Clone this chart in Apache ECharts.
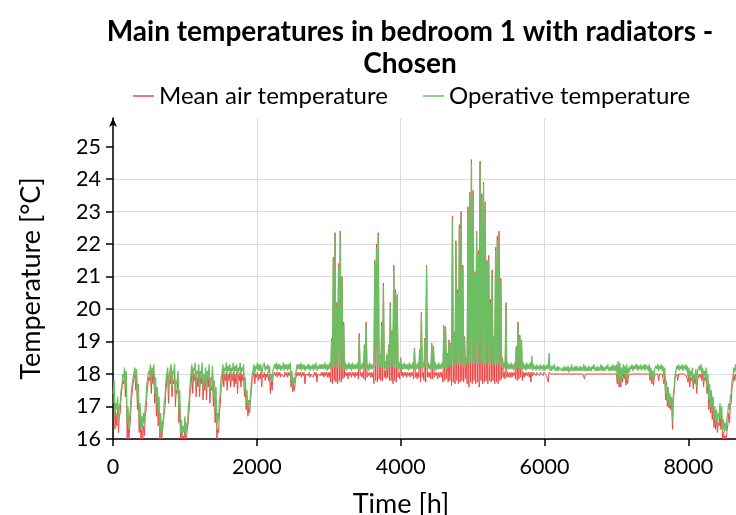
<!DOCTYPE html>
<html><head><meta charset="utf-8">
<script src="https://cdn.jsdelivr.net/npm/echarts@6/dist/echarts.min.js"></script>
<style>html,body{margin:0;padding:0;background:#fff}#c{width:736px;height:515px}</style>
</head><body><div id="c"></div>
<script>
const chartTitle = 'Main temperatures in bedroom 1 with radiators -\nChosen';
const seriesNames = ['Mean air temperature', 'Operative temperature'];
const xAxisName = 'Time [h]';
const yAxisName = 'Temperature [°C]';
const xTicks = [0, 2000, 4000, 6000, 8000];
const yTicks = [16, 17, 18, 19, 20, 21, 22, 23, 24, 25];
const hoursPerDay = 24;

// Daily maximum / minimum of operative temperature (green)
const opHi = [
17.8,17.1,17.3,17.0,17.5,18.0,18.2,18.1,17.0,16.7,
17.5,17.9,18.2,18.15,17.7,17.1,16.7,16.8,17.0,17.7,
18.1,18.3,18.2,18.3,17.9,17.6,17.3,16.8,16.5,17.1,
17.8,18.2,18.0,18.3,18.1,18.3,17.8,18.1,17.5,16.6,
16.4,16.7,16.5,17.0,17.7,18.3,18.2,18.35,18.1,18.3,
18.1,18.35,18.0,18.2,18.1,18.3,17.9,18.25,17.8,17.6,
16.8,17.2,17.9,18.3,18.2,18.35,18.25,18.3,18.2,18.35,
18.25,18.3,18.2,18.35,18.2,18.3,17.9,17.5,17.2,17.4,
18.0,18.3,18.25,18.35,18.3,18.3,18.2,18.35,18.25,18.3,
18.25,18.0,18.1,18.3,18.35,18.3,18.3,18.25,18.35,18.3,
18.3,18.3,18.35,18.1,17.9,18.0,18.3,18.3,18.35,18.3,
18.3,18.25,18.3,18.3,18.25,18.3,18.3,18.35,18.25,18.3,
18.3,18.3,18.35,18.3,18.3,18.35,19.05,21.5,22.25,20.1,
21.3,22.3,20.9,19.5,18.35,18.3,18.35,18.3,18.35,18.3,
18.3,18.35,19.15,18.3,18.35,18.85,19.55,18.3,18.35,18.3,
18.3,21.4,21.9,22.25,18.6,19.5,20.7,18.4,18.55,18.85,
20.1,19.3,21.25,20.5,20.4,18.35,18.45,18.3,18.35,18.3,
18.3,18.35,18.3,18.35,18.75,18.3,18.35,18.7,19.8,18.35,
19.05,21.3,18.35,18.3,18.9,18.8,18.35,18.3,18.35,18.3,
18.35,19.45,19.4,18.6,19.0,18.9,22.75,19.25,22.0,20.5,
22.5,22.9,21.25,19.1,18.45,23.05,23.5,24.5,23.55,21.05,
22.3,21.7,24.45,23.45,23.8,23.2,21.4,21.55,20.2,21.1,
19.1,21.8,22.15,22.3,20.85,18.45,18.35,20.15,18.35,18.3,
18.35,18.3,18.35,18.8,19.55,19.15,19.0,18.35,18.3,18.35,
18.3,18.35,18.55,18.3,18.25,18.3,18.25,18.3,18.25,18.3,
18.25,18.3,18.65,18.25,18.25,18.3,18.2,18.25,18.2,18.25,
18.2,18.25,18.2,18.25,18.2,18.3,18.2,18.25,18.25,18.2,
18.25,18.2,18.3,18.25,18.2,18.25,18.2,18.25,18.3,18.2,
18.25,18.2,18.3,18.25,18.2,18.25,18.3,18.2,18.25,18.3,
18.25,18.3,18.4,18.35,18.2,18.3,18.25,18.3,18.2,18.25,
18.3,18.25,18.3,18.3,18.25,18.3,18.25,18.3,18.3,18.25,
18.3,18.2,18.1,18.15,18.25,18.3,18.25,18.3,18.25,18.2,
17.8,17.6,17.4,17.3,17.4,18.0,18.25,18.3,18.25,18.3,
18.25,18.3,18.25,18.2,18.1,18.2,18.0,18.15,18.1,18.25,
18.3,18.2,18.1,18.2,18.0,17.7,17.5,17.3,17.0,16.9,
16.8,17.1,17.0,16.6,16.5,16.6,17.1,17.3,17.8,18.2,
18.3,18.25,18.3,18.3,18.25
];
const opLo = [
17.4,16.7,16.9,16.6,17.1,17.6,17.9,17.6,16.5,16.3,
17.0,17.5,17.9,17.8,17.2,16.6,16.3,16.3,16.5,17.2,
17.7,18.0,17.8,18.0,17.4,17.1,16.8,16.2,16.1,16.6,
17.3,17.8,17.5,18.0,17.6,18.0,17.3,17.7,16.9,16.2,
16.1,16.2,16.1,16.4,17.2,18.0,17.8,18.1,17.6,18.0,
17.6,18.0,17.5,17.8,17.6,17.9,17.4,17.8,17.3,16.9,
16.3,16.6,17.4,18.0,17.9,18.1,18.0,18.1,17.9,18.1,
18.0,18.1,17.9,18.1,18.0,18.1,17.5,17.1,16.9,17.0,
17.7,18.1,18.0,18.15,18.1,18.1,17.9,18.15,18.1,18.15,
18.05,17.8,17.8,18.1,18.15,18.1,18.15,18.1,18.15,18.1,
18.15,18.1,18.15,17.8,17.6,17.7,18.1,18.15,18.15,18.1,
18.15,18.1,18.15,18.15,18.1,18.15,18.1,18.15,18.1,18.15,
18.15,18.15,18.15,18.15,18.1,18.15,18.15,18.2,18.25,18.2,
18.2,18.25,18.2,18.15,18.15,18.1,18.15,18.15,18.1,18.15,
18.15,18.15,18.15,18.1,18.15,18.15,18.15,18.15,18.1,18.15,
18.15,18.2,18.25,18.25,18.2,18.2,18.2,18.15,18.15,18.15,
18.2,18.2,18.2,18.2,18.2,18.15,18.15,18.1,18.15,18.15,
18.15,18.1,18.15,18.15,18.15,18.1,18.15,18.15,18.2,18.15,
18.2,18.2,18.15,18.15,18.15,18.15,18.15,18.1,18.15,18.15,
18.15,18.2,18.2,18.15,18.2,18.2,18.25,18.2,18.25,18.3,
18.3,18.3,18.25,18.2,18.2,18.3,18.35,18.35,18.3,18.3,
18.3,18.3,18.35,18.35,18.35,18.3,18.3,18.3,18.25,18.3,
18.25,18.3,18.3,18.3,18.25,18.2,18.15,18.2,18.15,18.15,
18.15,18.15,18.1,18.15,18.2,18.2,18.15,18.15,18.15,18.1,
18.15,18.15,18.15,18.1,18.15,18.1,18.15,18.1,18.15,18.1,
18.1,18.15,18.15,18.1,18.1,18.15,18.1,18.1,18.1,18.15,
18.1,18.1,18.1,18.1,18.05,18.1,18.1,18.1,18.1,18.1,
18.1,18.1,18.1,18.1,18.1,18.1,18.1,18.1,18.15,18.1,
18.1,18.1,18.1,18.1,18.1,18.1,18.15,18.1,18.1,18.1,
18.1,18.1,17.9,17.7,17.75,17.9,18.0,17.8,17.85,18.05,
18.15,18.1,18.15,18.15,18.1,18.15,18.1,18.15,18.1,18.15,
18.1,17.9,17.8,17.75,18.1,18.15,18.1,18.15,18.1,17.9,
17.4,17.2,17.0,17.05,16.55,17.6,18.1,18.15,18.1,18.15,
18.1,18.15,18.1,17.9,17.8,17.95,17.7,17.85,17.6,18.05,
18.1,18.0,17.8,17.95,17.6,17.2,17.0,16.9,16.6,16.5,
16.4,16.7,16.6,16.3,16.2,16.25,16.8,16.9,17.4,17.9,
18.05,18.1,18.1,18.15,18.1
];
// Daily maximum / minimum of mean air temperature (red)
const airHi = [
17.6,16.8,17.0,16.7,17.3,17.8,18.0,17.9,16.7,16.3,
17.2,17.7,18.0,17.95,17.4,16.8,16.3,16.4,16.7,17.4,
17.9,18.05,18.0,18.05,17.6,17.3,17.0,16.4,16.2,16.8,
17.5,18.0,17.8,18.05,17.8,18.0,17.5,17.9,17.1,16.2,
16.1,16.3,16.1,16.6,17.4,18.05,18.0,18.05,17.9,18.05,
17.9,18.05,17.8,18.0,17.9,18.0,17.6,18.0,17.5,17.2,
16.3,16.8,17.6,18.05,18.0,18.05,18.0,18.05,18.0,18.05,
18.0,18.05,18.0,18.05,18.0,18.05,17.7,17.3,17.0,17.2,
17.8,18.05,18.0,18.05,18.0,18.05,18.0,18.05,18.0,18.05,
18.0,17.8,17.9,18.05,18.05,18.05,18.05,18.0,18.05,18.05,
18.05,18.05,18.05,17.9,17.7,17.8,18.05,18.05,18.05,18.05,
18.05,18.0,18.05,18.05,18.0,18.05,18.05,18.05,18.0,18.05,
18.05,18.05,18.05,18.05,18.05,18.05,19.1,21.6,22.35,20.2,
21.4,22.4,21.0,19.6,18.05,18.05,18.05,18.05,18.05,18.05,
18.05,18.05,19.25,18.05,18.05,18.9,19.6,18.05,18.05,18.05,
18.05,21.5,22.0,22.35,18.3,19.6,20.8,18.1,18.6,18.9,
20.2,19.35,21.35,20.6,20.45,18.05,18.5,18.05,18.05,18.05,
18.05,18.05,18.05,18.05,18.8,18.05,18.05,18.75,19.9,18.05,
19.1,21.35,18.05,18.05,18.95,18.85,18.05,18.05,18.05,18.05,
18.05,19.5,19.45,18.65,19.05,18.95,22.85,19.3,22.1,20.6,
22.6,23.0,21.35,19.15,18.5,23.15,23.6,24.6,23.65,21.15,
22.4,21.8,24.55,23.55,23.9,23.3,21.5,21.65,20.3,21.2,
19.15,21.9,22.25,22.4,20.95,18.5,18.05,20.2,18.05,18.05,
18.05,18.05,18.05,18.85,19.6,19.2,19.05,18.05,18.05,18.05,
18.05,18.05,18.05,18.05,18.0,18.05,18.0,18.05,18.0,18.05,
18.0,18.0,18.05,18.0,18.0,18.0,18.0,18.0,18.0,18.0,
18.0,18.0,18.0,18.0,18.0,18.0,18.0,18.0,18.0,18.0,
18.0,18.0,18.0,18.0,18.0,18.0,18.0,18.0,18.0,18.0,
18.0,18.0,18.0,18.0,18.0,18.0,18.0,18.0,18.0,18.0,
18.0,18.0,18.0,17.95,17.9,18.0,18.0,17.95,17.95,18.0,
18.0,18.0,18.0,18.0,18.0,18.0,18.0,18.0,18.0,18.0,
18.0,18.0,17.95,17.9,18.0,18.0,18.0,18.0,18.0,17.95,
17.6,17.4,17.2,17.15,17.2,17.9,18.0,18.0,18.0,18.0,
18.0,18.0,18.0,17.95,17.9,17.95,17.85,17.9,17.8,18.0,
18.0,18.0,17.9,17.95,17.8,17.5,17.2,17.0,16.7,16.6,
16.5,16.8,16.7,16.2,16.1,16.2,16.8,17.0,17.6,18.0,
18.0,18.0,18.0,18.0,18.0
];
const airLo = [
17.1,16.3,16.4,16.2,16.8,17.3,17.7,17.3,16.0,16.0,
16.7,17.2,17.7,17.5,16.9,16.2,16.0,16.0,16.1,16.9,
17.4,17.8,17.4,17.7,17.1,16.7,16.4,16.0,16.0,16.2,
17.0,17.5,17.1,17.7,17.3,17.7,17.0,17.4,16.5,16.0,
16.0,16.0,16.0,16.1,16.9,17.6,17.4,17.8,17.3,17.6,
17.3,17.7,17.2,17.5,17.2,17.6,17.1,17.5,17.0,16.5,
16.0,16.2,17.1,17.7,17.6,17.8,17.5,17.8,17.6,17.8,
17.6,17.7,17.4,17.8,17.6,17.8,17.3,16.9,16.7,16.8,
17.5,17.8,17.7,17.9,17.8,17.85,17.6,17.9,17.8,17.9,
17.8,17.4,17.5,17.9,17.95,17.9,17.95,17.9,17.95,17.9,
17.95,17.9,17.95,17.6,17.45,17.5,17.8,17.95,17.95,17.9,
17.95,17.7,17.95,17.95,17.9,17.95,17.9,17.95,17.75,17.95,
17.95,17.95,17.9,17.95,17.9,17.9,17.75,17.7,17.8,17.75,
17.7,17.8,17.75,17.85,17.9,17.95,17.85,17.95,17.9,17.95,
17.9,17.95,17.85,17.95,17.9,17.85,17.8,17.9,17.95,17.9,
17.9,17.7,17.8,17.75,17.85,17.8,17.8,17.9,17.85,17.9,
17.8,17.8,17.7,17.8,17.75,17.9,17.85,17.95,17.9,17.95,
17.9,17.95,17.9,17.95,17.85,17.9,17.85,17.9,17.75,17.9,
17.8,17.75,17.9,17.9,17.85,17.85,17.9,17.95,17.85,17.9,
17.9,17.75,17.8,17.85,17.75,17.8,17.65,17.75,17.7,17.8,
17.7,17.75,17.8,17.75,17.85,17.7,17.6,17.75,17.7,17.8,
17.7,17.75,17.6,17.8,17.7,17.75,17.8,17.7,17.8,17.75,
17.8,17.7,17.75,17.7,17.8,17.85,17.9,17.85,17.9,17.9,
17.9,17.9,17.95,17.85,17.8,17.85,17.9,17.8,17.9,17.95,
17.95,17.9,17.75,17.95,18.0,17.95,18.0,17.95,18.0,17.95,
18.0,17.95,17.75,18.0,18.0,17.95,18.0,18.0,18.0,18.0,
18.0,18.0,18.0,18.0,18.0,17.95,18.0,18.0,18.0,18.0,
18.0,18.0,18.0,17.85,18.0,18.0,18.0,18.0,18.0,18.0,
18.0,18.0,18.0,18.0,18.0,18.0,18.0,18.0,18.0,18.0,
18.0,18.0,17.7,17.6,17.6,17.75,17.85,17.65,17.7,17.9,
18.0,18.0,18.0,18.0,18.0,18.0,18.0,18.0,18.0,18.0,
18.0,17.8,17.7,17.65,18.0,18.0,17.8,18.0,18.0,17.7,
17.2,17.0,16.95,16.9,16.3,17.5,17.85,17.8,18.0,18.0,
18.0,18.0,17.95,17.75,17.6,17.8,17.55,17.7,17.4,17.85,
17.9,17.8,17.6,17.8,17.4,16.9,16.8,16.6,16.35,16.3,
16.2,16.4,16.3,16.0,16.0,16.0,16.4,16.5,17.1,17.7,
17.8,17.85,17.9,17.95,17.9
];

// Interleave each day's minimum (night) and maximum (day) readings on the hour axis
function daily(lo, hi) {
  const out = [];
  for (let d = 0; d < lo.length; d++) {
    out.push([d * hoursPerDay + 4, lo[d]]);
    out.push([d * hoursPerDay + 16, hi[d]]);
  }
  return out;
}

const chart = echarts.init(document.getElementById('c'), null, {renderer: 'canvas'});
const font = 'Lato';
chart.setOption({
  animation: false,
  backgroundColor: '#fff',
  textStyle: {fontFamily: font},
  title: {
    text: chartTitle, left: 405, top: 11, textAlign: 'center',
    textStyle: {fontFamily: font, fontWeight: 'bold', fontSize: 28, lineHeight: 32, color: '#000'}
  },
  legend: {
    data: seriesNames, left: 128, top: 79, icon: 'rect', itemWidth: 21, itemHeight: 1.5, itemGap: 35,
    textStyle: {fontFamily: font, fontSize: 24, color: '#000'}
  },
  grid: {left: 113, right: -7, top: 118, bottom: 76, outerBoundsMode: 'none', containLabel: false},
  xAxis: {
    type: 'value', min: 0, max: 8760, interval: 2000,
    name: xAxisName, nameLocation: 'middle', nameGap: 52,
    nameTextStyle: {fontFamily: font, fontSize: 27, color: '#000', padding: [0, 54, 0, 0]},
    axisLine: {lineStyle: {color: '#000', width: 1.5}},
    axisTick: {show: true, length: 7, customValues: xTicks, lineStyle: {color: '#000', width: 1.5}},
    axisLabel: {fontFamily: font, fontSize: 21.5, color: '#000', margin: 17, customValues: xTicks, formatter: v => String(v)},
    splitLine: {show: true, showMaxLine: false, lineStyle: {color: '#dcdcdc', width: 1}}
  },
  yAxis: {
    type: 'value', min: 16, max: 25.88, interval: 1,
    name: yAxisName, nameLocation: 'middle', nameGap: 68,
    nameTextStyle: {fontFamily: font, fontSize: 27, color: '#000'},
    axisLine: {show: true, symbol: ['none', 'arrow'], symbolSize: [6, 9], lineStyle: {color: '#000', width: 1.5}},
    axisTick: {show: true, length: 7, customValues: yTicks, lineStyle: {color: '#000', width: 1.5}},
    axisLabel: {fontFamily: font, fontSize: 21.5, color: '#000', margin: 12, customValues: yTicks, formatter: v => String(v)},
    splitLine: {show: true, showMaxLine: false, lineStyle: {color: '#dcdcdc', width: 1}}
  },
  series: [
    {name: seriesNames[0], type: 'line', data: daily(airLo, airHi), symbol: 'none', showSymbol: false,
     lineStyle: {color: '#ef4747', width: 1}, itemStyle: {color: '#ef4747'}, z: 2},
    {name: seriesNames[1], type: 'line', data: daily(opLo, opHi), symbol: 'none', showSymbol: false,
     lineStyle: {color: '#6dbd63', width: 1.3}, itemStyle: {color: '#6dbd63'}, z: 3}
  ]
});
</script>
</body></html>
